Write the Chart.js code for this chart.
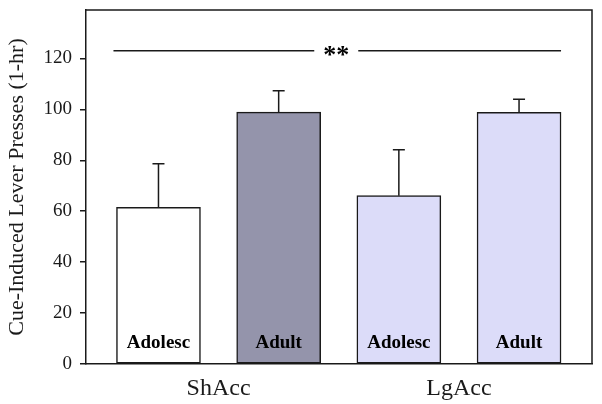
<!DOCTYPE html>
<html>
<head>
<meta charset="utf-8">
<script src="https://cdn.jsdelivr.net/npm/chart.js@4"></script>
<style>
  body { margin: 0; background: #fff; }
  canvas { display: block; }
</style>
</head>
<body>
<canvas id="presses" width="602" height="404"></canvas>
<script>
// data
var groups = ["ShAcc", "LgAcc"];
var ages = ["Adolesc", "Adult", "Adolesc", "Adult"];
var means = [61.5, 98.9, 66.1, 98.8];
var sems = [17.1, 8.4, 18.0, 5.2];
var barColors = ["#ffffff", "#9494ab", "#dcdcf9", "#dcdcf9"];
var yTicks = [0, 20, 40, 60, 80, 100, 120];
var sigLevel = 123;
var sigLabel = "**";

var serif = "'Liberation Serif', 'Times New Roman', serif";
var ink = "#1a1a1a";

var points = means.map(function (v, i) { return {x: i + 1, y: v}; });

// frame, error bars, bar labels and the significance line
var extras = {
    id: "extras",
    afterDatasetsDraw: function (chart) {
        var ctx = chart.ctx;
        var area = chart.chartArea;
        var y = chart.scales.y;
        var bars = chart.getDatasetMeta(0).data;
        ctx.save();
        ctx.strokeStyle = ink;
        ctx.lineWidth = 1.5;
        // top and right frame
        ctx.beginPath();
        ctx.moveTo(area.left, area.top);
        ctx.lineTo(area.right, area.top);
        ctx.lineTo(area.right, area.bottom);
        ctx.stroke();
        // error bars (upper only)
        bars.forEach(function (bar, i) {
            var yTop = y.getPixelForValue(means[i] + sems[i]);
            var yMean = y.getPixelForValue(means[i]);
            ctx.beginPath();
            ctx.moveTo(bar.x, yMean);
            ctx.lineTo(bar.x, yTop);
            ctx.moveTo(bar.x - 6, yTop);
            ctx.lineTo(bar.x + 6, yTop);
            ctx.stroke();
        });
        // labels inside bars
        ctx.fillStyle = "#000";
        ctx.font = "bold 19px " + serif;
        ctx.textAlign = "center";
        ctx.textBaseline = "middle";
        bars.forEach(function (bar, i) {
            ctx.fillText(ages[i], bar.x, area.bottom - 21);
        });
        // significance line
        var w = bars[0].width;
        var x1 = bars[0].x - w / 2 - 3;
        var x2 = bars[bars.length - 1].x + w / 2;
        var mid = (x1 + x2) / 2;
        var ys = y.getPixelForValue(sigLevel);
        ctx.beginPath();
        ctx.moveTo(x1, ys);
        ctx.lineTo(mid - 23, ys);
        ctx.moveTo(mid + 21, ys);
        ctx.lineTo(x2, ys);
        ctx.stroke();
        ctx.font = "bold 26px " + serif;
        ctx.fillText(sigLabel, mid - 1, ys + 6);
        ctx.restore();
    }
};

var chart = new Chart("presses", {
    type: "bar",
    data: {
        datasets: [{
            data: points,
            backgroundColor: barColors,
            borderColor: ink,
            borderWidth: 1.5,
            borderSkipped: false,
            barThickness: 84
        }]
    },
    options: {
        responsive: false,
        animation: false,
        layout: {padding: {top: 10, right: 10, left: 0, bottom: 0}},
        plugins: {legend: {display: false}, tooltip: {enabled: false}},
        scales: {
            x: {
                type: "linear",
                offset: false,
                min: 0.397,
                max: 4.607,
                grid: {display: false},
                border: {display: true, color: ink, width: 1.5},
                afterBuildTicks: function (scale) {
                    scale.ticks = groups.map(function (g, i) { return {value: 1.5 + 2 * i}; });
                },
                afterFit: function (scale) {
                    scale.height = 40;
                    scale.paddingLeft = 0;
                    scale.paddingRight = 0;
                },
                ticks: {
                    color: ink,
                    padding: 2,
                    font: {family: serif, size: 24},
                    callback: function (v) { return groups[Math.round((v - 1.5) / 2)]; }
                }
            },
            y: {
                min: 0,
                max: 139,
                grid: {drawOnChartArea: false, color: ink, lineWidth: 1.5, tickLength: 6},
                border: {display: true, color: ink, width: 1.5},
                afterBuildTicks: function (scale) {
                    scale.ticks = yTicks.map(function (v) { return {value: v}; });
                },
                afterFit: function (scale) {
                    scale.width = 86;
                    scale.paddingTop = 0;
                    scale.paddingBottom = 0;
                },
                ticks: {
                    color: ink,
                    padding: 8,
                    font: {family: serif, size: 19}
                },
                title: {
                    display: true,
                    text: "Cue-Induced Lever Presses (1-hr)",
                    color: ink,
                    padding: {top: 4, bottom: 0},
                    font: {family: serif, size: 22}
                }
            }
        }
    },
    plugins: [extras]
});
</script>
</body>
</html>
